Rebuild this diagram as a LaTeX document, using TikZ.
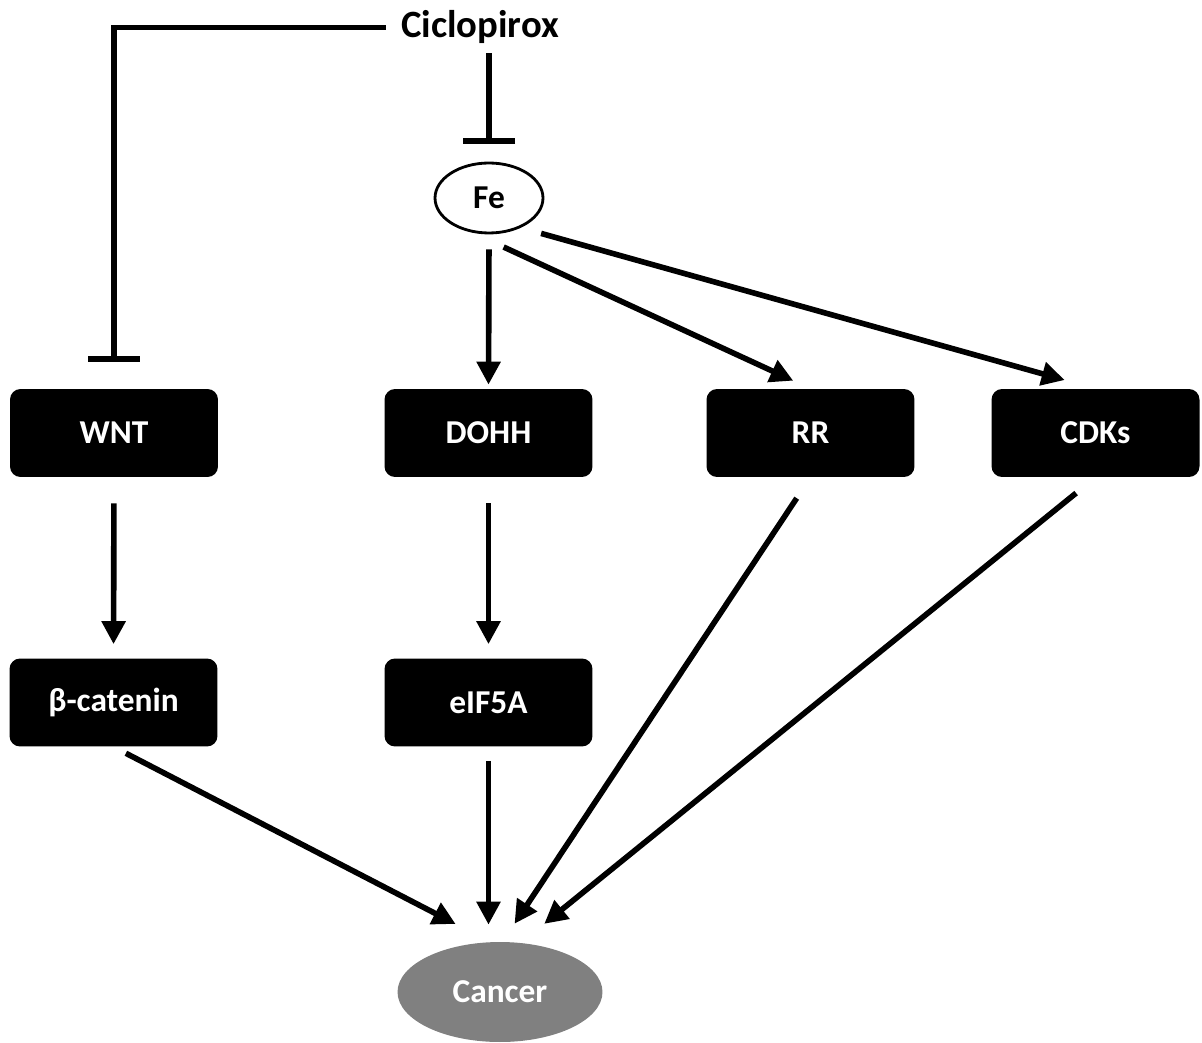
\documentclass[tikz,border=0pt]{standalone}
\usepackage{fontspec}
\setmainfont{Carlito}
\usepackage{tikz}
\usetikzlibrary{shapes,arrows.meta,positioning,calc}
\definecolor{cancergray}{RGB}{128,128,128}

\begin{document}
\begin{tikzpicture}[
    x=0.02cm, y=-0.02cm,
    box/.style={
      rectangle,
      fill=black,
      text=white,
      minimum width=4.16cm,
      minimum height=1.76cm,
      rounded corners=6pt,
      font=\fontsize{19}{22}\selectfont\bfseries
    },
    ion/.style={ellipse, draw=black, line width=1.6pt, fill=white,
      minimum width=2.16cm, minimum height=1.4cm, font=\fontsize{19}{22}\selectfont\bfseries},
    arrow/.style={-{Triangle[length=0.46cm,width=0.46cm]}, line width=3.2pt},
    inhibit/.style={-{Bar[width=1.04cm]}, line width=3pt}
  ]
    \useasboundingbox (0,0) rectangle (1202,1043);

    \node[font=\fontsize{22}{26}\selectfont\bfseries, inner sep=0pt, anchor=base] (cic) at (480,38) {Ciclopirox};
    \node[ion] (fe) at (489,198) {Fe};

    \node[box] (wnt) at (114,433) {WNT};
    \node[box] (dohh) at (488.5,433) {DOHH};
    \node[box] (rr) at (810.5,433) {RR};
    \node[box] (cdks) at (1095.5,433) {CDKs};

    \node[box] (bcat) at (113.5,702.5) {β-catenin};
    \node[box] (eif) at (488.5,702.5) {eIF5A};

    \node[ellipse, fill=cancergray, text=white, minimum width=4.1cm, minimum height=2cm,
      font=\fontsize{19}{22}\selectfont\bfseries] (cancer) at (500,992) {Cancer};

    \draw[inhibit, shorten <=0.3cm, shorten >=0.54cm] (cic.west) -| (wnt.north);
    \draw[inhibit, shorten <=0.18cm, shorten >=0.36cm] (fe |- cic.south) -- (fe.north);

    \draw[arrow, shorten <=0.3cm, shorten >=0.08cm] (fe.south) -- (dohh.north);
    \draw[arrow, shorten <=0.68cm, shorten >=0.38cm] (fe.-115) -- (rr.north);
    \draw[arrow, shorten <=0.42cm, shorten >=0.64cm] (fe.-43) -- (cdks.north);

    \draw[arrow, shorten <=0.52cm, shorten >=0.28cm] (wnt.south) -- (bcat.north);
    \draw[arrow, shorten <=0.52cm, shorten >=0.28cm] (dohh.south) -- (eif.north);

    \draw[arrow, shorten <=0.28cm, shorten >=0.78cm] (bcat.south) -- (cancer.101);
    \draw[arrow, shorten <=0.28cm, shorten >=0.34cm] (eif.south) -- (eif.south |- cancer.north);
    \draw[arrow, shorten <=0.5cm, shorten >=0.43cm] (rr.south) -- (cancer.87);
    \draw[arrow, shorten <=0.5cm, shorten >=0.6cm] (cdks.south) -- (cancer.67);
\end{tikzpicture}
\end{document}
